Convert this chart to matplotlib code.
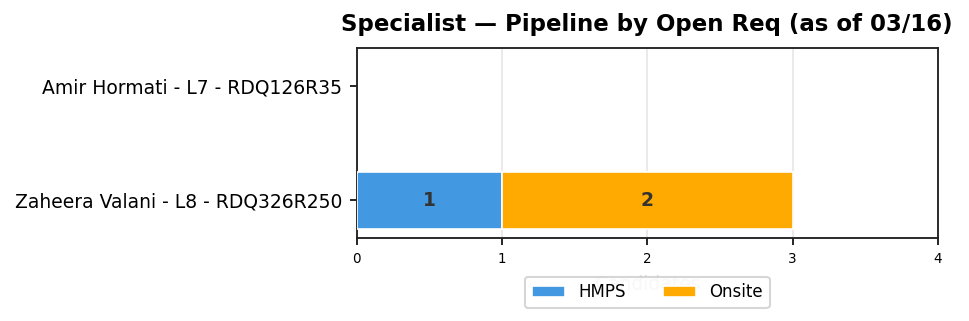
import numpy as np
import matplotlib.pyplot as plt

reqs = ["Zaheera Valani - L8 - RDQ326R250", "Amir Hormati - L7 - RDQ126R35"]
stages = ["HMPS", "Onsite"]
counts = {
    "HMPS": [1, 0],
    "Onsite": [2, 0],
}
colors = {"HMPS": "#4299e1", "Onsite": "#ffaa00"}

fig = plt.figure(figsize=(6.46, 2.14), dpi=150)
ax = fig.add_axes([0.368, 0.259, 0.600, 0.591])

y = np.arange(len(reqs))
left = np.zeros(len(reqs))
for s in stages:
    vals = np.array(counts[s], dtype=float)
    # no edge on empty bars, otherwise a stray line shows at x=0
    edges = ["white" if v > 0 else "none" for v in vals]
    ax.barh(y, vals, left=left, height=0.5, color=colors[s], edgecolor=edges,
            linewidth=0.8, label=s, zorder=3)
    for yi, v, l in zip(y, vals, left):
        if v > 0:
            ax.text(l + v / 2, yi, str(int(v)), ha="center", va="center",
                    fontsize=9, fontweight="bold", color="#333333", zorder=4)
    left += vals

ax.set_yticks(y)
ax.set_yticklabels(reqs, fontsize=9)
ax.set_xlim(0, 4)
ax.set_xticks(range(5))
ax.tick_params(axis="x", labelsize=6.5)
ax.grid(axis="x", color="#e6e6e6", linewidth=0.8, zorder=0)
ax.set_axisbelow(True)
ax.set_xlabel("Candidates", fontsize=9, color="#dddddd", labelpad=4)
for sp in ax.spines.values():
    sp.set_color("#222222")
    sp.set_linewidth(0.9)
ax.set_title("Specialist \u2014 Pipeline by Open Req (as of 03/16)", fontsize=11,
             fontweight="bold", pad=8)
ax.legend(loc="upper center", bbox_to_anchor=(0.5, -0.16), ncol=2, fontsize=8,
          frameon=True, handlelength=2.0, columnspacing=2.2)

fig.savefig("out.png", dpi=150)
